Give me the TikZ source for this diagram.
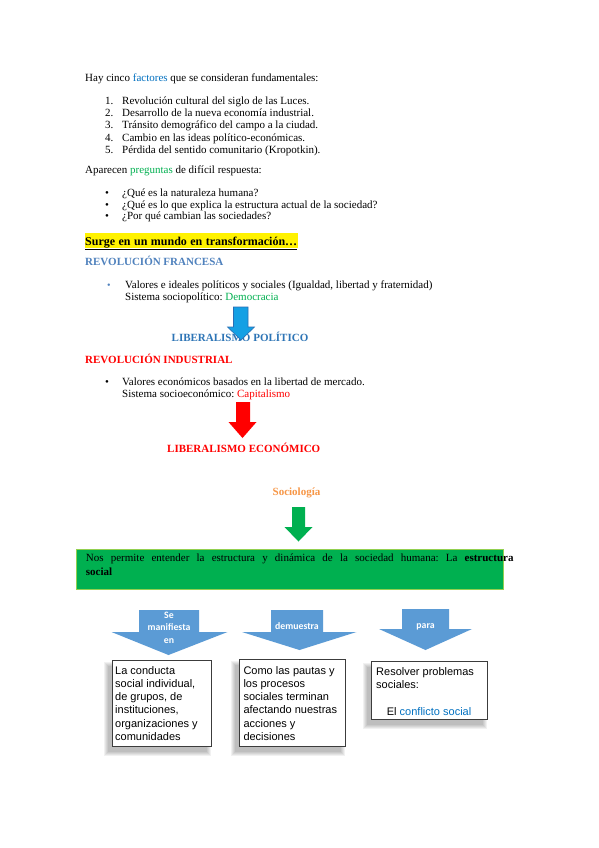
\documentclass[tikz,border=0pt]{standalone}
\usepackage{fontspec}
\setmainfont{Liberation Serif}
\newfontfamily\arialf{Liberation Sans}
\newfontfamily\calibf{Carlito}
\definecolor{cfact}{RGB}{0,112,192}
\definecolor{cgreen}{RGB}{0,176,80}
\definecolor{cfr}{RGB}{79,129,189}
\definecolor{clib}{RGB}{46,117,182}
\definecolor{carrowb}{RGB}{20,160,228}
\definecolor{carrowbd}{RGB}{40,110,180}
\definecolor{csoc}{RGB}{247,150,70}
\definecolor{clgreen}{RGB}{146,208,80}
\definecolor{coff}{RGB}{91,155,213}
\definecolor{cbox}{RGB}{60,60,60}
\definecolor{cred}{RGB}{255,0,0}
\newcommand\softshadow[4]{\foreach \k in {0,1,2,3,4}{\fill[black,opacity=0.055] (#1-\k,#2-\k) rectangle (#3+\k,#4+\k);}}
\frenchspacing
\begin{document}
\begin{tikzpicture}[x=1pt,y=-1pt,
 txt/.style={anchor=base west,inner sep=0pt,font=\fontsize{11}{13}\selectfont},
 hd/.style={anchor=base west,inner sep=0pt,font=\fontsize{11}{13}\selectfont\bfseries},
 arrowtxt/.style={anchor=base,inner sep=0pt,text=white,font=\calibf\bfseries\fontsize{9.8}{12.4}\selectfont},
 boxtxt/.style={anchor=base west,inner sep=0pt,font=\arialf\fontsize{11}{13.3}\selectfont},
 sbox/.style={draw=cbox,line width=0.8pt,fill=white,inner sep=0pt,anchor=north west}
]
\useasboundingbox[fill=white] (0,0) rectangle (599,848);

% --- introduction
\node[txt] (intro) at (85,81.5) {Hay cinco \textcolor{cfact}{factores} que se consideran fundamentales:};
\node[txt] (n1) at (105,104.4) {1.};
\node[txt] (i1) at (122,104.4) {Revolución cultural del siglo de las Luces.};
\node[txt] (n2) at (105,116.6) {2.};
\node[txt] (i2) at (122,116.6) {Desarrollo de la nueva economía industrial.};
\node[txt] (n3) at (105,128.8) {3.};
\node[txt] (i3) at (122,128.8) {Tránsito demográfico del campo a la ciudad.};
\node[txt] (n4) at (105,141.0) {4.};
\node[txt] (i4) at (122,141.0) {Cambio en las ideas político-económicas.};
\node[txt] (n5) at (105,153.2) {5.};
\node[txt] (i5) at (122,153.2) {Pérdida del sentido comunitario (Kropotkin).};

\node[txt] (aparecen) at (85,173.5) {Aparecen \textcolor{cgreen}{preguntas} de difícil respuesta:};
\node[txt] (b1d) at (105,196.8) {•};
\node[txt] (q1) at (122,196.8) {¿Qué es la naturaleza humana?};
\node[txt] (b2d) at (105,208.0) {•};
\node[txt] (q2) at (122,208.0) {¿Qué es lo que explica la estructura actual de la sociedad?};
\node[txt] (b3d) at (105,219.2) {•};
\node[txt] (q3) at (122,219.2) {¿Por qué cambian las sociedades?};

% --- surge
\fill[yellow] (85,233) rectangle (298,248);
\node[hd,font=\fontsize{12}{14}\selectfont\bfseries] (surge) at (85,245) {\underline{\makebox[212pt][s]{Surge en un mundo en transformación…}}};

% --- revolucion francesa
\node[hd,text=cfr] (rf) at (85,265.5) {REVOLUCIÓN FRANCESA};
\node[txt,text=cfr,font=\fontsize{10}{12}\selectfont] (rfb) at (107,288.3) {•};
\node[txt] (rf1) at (125,288.5) {Valores e ideales políticos y sociales (Igualdad, libertad y fraternidad)};
\node[txt] (rf2) at (125,300.3) {Sistema sociopolítico: \textcolor{cgreen}{Democracia}};
\node[hd,text=clib] (lp) at (171.5,341.5) {LIBERALISMO POLÍTICO};
\filldraw[fill=carrowb,draw=carrowbd,line width=0.6pt] (233.5,307) -- (248,307) -- (248,327) -- (254.5,327) -- (241,340) -- (227.5,327) -- (233.5,327) -- cycle;

% --- revolucion industrial
\node[hd,text=cred] (ri) at (85,363.5) {REVOLUCIÓN INDUSTRIAL};
\node[txt] (rib) at (105,385.5) {•};
\node[txt] (ri1) at (122,385.5) {Valores económicos basados en la libertad de mercado.};
\node[txt] (ri2) at (122,397) {Sistema socioeconómico: \textcolor{cred}{Capitalismo}};
\fill[cred] (236,402) -- (250,402) -- (250,422) -- (256.5,422) -- (242.5,438) -- (228.5,422) -- (236,422) -- cycle;
\node[hd,text=cred] (le) at (167,452) {LIBERALISMO ECONÓMICO};

% --- sociologia
\node[hd,text=csoc,anchor=base] (soc) at (296.5,495.5) {Sociología};
\fill[cgreen] (292,507) -- (305,507) -- (305,527) -- (312.5,527) -- (298.5,541.5) -- (284.5,527) -- (292,527) -- cycle;
\node[draw=clgreen,fill=cgreen,line width=0.9pt,anchor=north west,minimum width=427pt,minimum height=40pt,inner sep=0pt] (gbox) at (76,549) {};
\node[txt] (g1) at (85.7,561) {\makebox[427.6pt][s]{Nos permite entender la estructura y dinámica de la sociedad humana: La \textbf{estructura}}};
\node[txt] (g2) at (85.7,575.3) {\textbf{social}};

% --- bottom arrows
\fill[coff] (139,610) -- (199,610) -- (199,632) -- (227.5,632) -- (168.5,655) -- (111.5,632) -- (139,632) -- cycle;
\node[arrowtxt] (a1) at (169,618.5) {\parbox[t]{60pt}{\centering Se\\manifiesta\\en}};
\fill[coff] (271,610) -- (323,610) -- (323,632) -- (356.5,632) -- (299.5,650) -- (242,632) -- (271,632) -- cycle;
\node[arrowtxt] (a2) at (297,629.3) {demuestra};
\fill[coff] (402,609) -- (449,609) -- (449,629) -- (472,629) -- (425.5,650) -- (379,629) -- (402,629) -- cycle;
\node[arrowtxt] (a3) at (425.5,628) {para};

% --- boxes
\softshadow{108}{666}{207}{752}
\softshadow{235}{665}{341}{752}
\softshadow{367}{667}{483}{725}
\node[sbox,minimum width=99pt,minimum height=86pt] (box1) at (112,660) {};
\node[sbox,minimum width=106pt,minimum height=87pt] (box2) at (239,659) {};
\node[sbox,minimum width=116pt,minimum height=58pt] (box3) at (371,661) {};
\node[boxtxt] (bt1) at (115,674) {\parbox[t]{110pt}{La conducta\\social individual,\\de grupos, de\\instituciones,\\organizaciones y\\comunidades}};
\node[boxtxt] (bt2) at (243.3,674) {\parbox[t]{110pt}{Como las pautas y\\los procesos\\sociales terminan\\afectando nuestras\\acciones y\\decisiones}};
\node[boxtxt] (bt3) at (376,675.5) {\parbox[t]{115pt}{Resolver problemas\\sociales:}};
\node[boxtxt] (bt4) at (386.7,715.5) {El \textcolor{cfact}{conflicto social}};
\end{tikzpicture}
\end{document}
